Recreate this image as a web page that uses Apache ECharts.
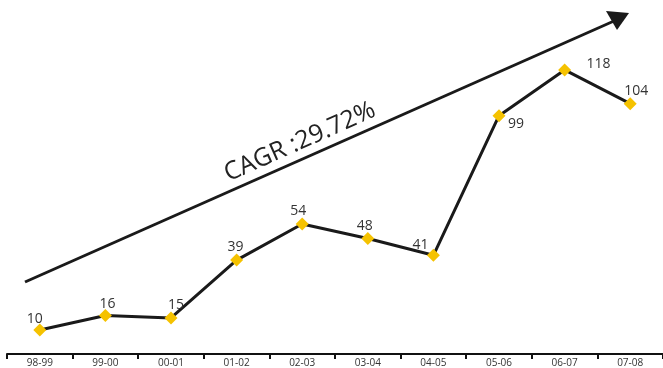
<!DOCTYPE html>
<html>
<head>
<meta charset="utf-8">
<script src="https://cdn.jsdelivr.net/npm/echarts@6/dist/echarts.min.js"></script>
<style>
  html, body { margin: 0; padding: 0; background: #fff; }
  #chart { width: 663px; height: 368px; }
</style>
</head>
<body>
<div id="chart"></div>
<script>
// 数据
const years = ['98-99', '99-00', '00-01', '01-02', '02-03', '03-04', '04-05', '05-06', '06-07', '07-08']
const values = [10, 16, 15, 39, 54, 48, 41, 99, 118, 104]
// 标签位置（每个点略有不同）
const labelOffsets = [[-5, 3], [2, 2], [5, 1], [-1, 0], [-4, 1], [-3, 1], [-13, 3], [17, 22], [34, 8], [6, 1]]

const chart = echarts.init(document.getElementById('chart'))

const option = {
  animation: false,
  grid: { left: 7, right: 0, top: 17, bottom: 14 },
  xAxis: {
    type: 'category',
    data: years,
    boundaryGap: true,
    axisLine: { lineStyle: { color: '#111', width: 2 } },
    axisTick: { show: true, length: 5, lineStyle: { color: '#111', width: 2 } },
    axisLabel: { color: '#333', fontSize: 10, fontFamily: 'Open Sans', margin: 4 }
  },
  yAxis: {
    type: 'value',
    min: 0,
    max: 140,
    show: false,
    splitLine: { show: false }
  },
  graphic: [
    {
      type: 'line',
      shape: { x1: 25, y1: 282, x2: 614, y2: 21 },
      style: { stroke: '#1a1a1a', lineWidth: 3 }
    },
    {
      type: 'polygon',
      shape: { points: [[629, 13], [606, 11], [617, 30]] },
      style: { fill: '#1a1a1a' }
    },
    {
      type: 'text',
      x: 300,
      y: 142,
      rotation: 24 * Math.PI / 180,
      style: {
        text: 'CAGR :29.72%',
        fontSize: 25,
        fontFamily: 'Open Sans',
        fill: '#222',
        align: 'center',
        verticalAlign: 'middle'
      }
    }
  ],
  series: [
    {
      type: 'line',
      data: values.map((v, i) => ({
        value: v,
        label: { offset: labelOffsets[i] }
      })),
      symbol: 'diamond',
      symbolSize: 13,
      itemStyle: { color: '#f5c200' },
      lineStyle: { color: '#1a1a1a', width: 3 },
      z: 3,
      label: {
        show: true,
        position: 'top',
        distance: 0,
        color: '#333',
        fontSize: 14,
        fontFamily: 'Open Sans'
      }
    }
  ]
}

chart.setOption(option)
</script>
</body>
</html>
